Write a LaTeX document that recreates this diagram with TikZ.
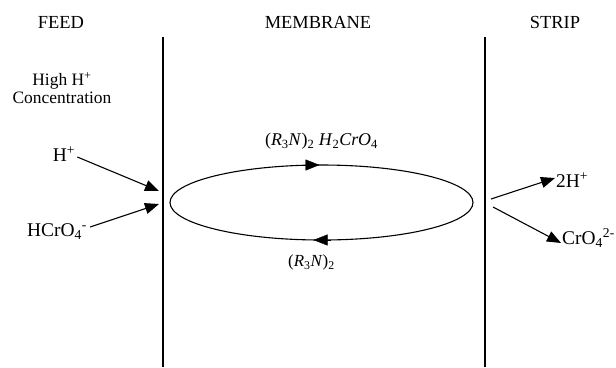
\documentclass[tikz,border=0pt]{standalone}
\usepackage{fontspec}
\setmainfont{Liberation Serif}
\usetikzlibrary{positioning, arrows.meta}
\newcommand{\chem}[1]{\textit{#1}}

\begin{document}
\begin{tikzpicture}[
    x=1bp, y=-1bp,
    head/.style={
        font=\fontsize{18.5}{21}\selectfont,
        inner sep=0pt
    },
    species/.style={
        font=\fontsize{19.5}{22}\selectfont,
        inner sep=1pt
    },
    carrier/.style={font=\fontsize{17}{19}\selectfont, inner sep=1pt},
    wall/.style={line width=1.1pt},
    flow/.style={-{Triangle[length=14bp, width=11bp]}, line width=1.1pt}
]
\useasboundingbox (0,0) rectangle (616,367);

% === Headings ===
\node[head] (feed) at (61,22) {FEED};
\node[head] (membrane) at (318,22) {MEMBRANE};
\node[head] (strip) at (555,22) {STRIP};

% === Membrane walls ===
\draw[wall] (163,37) coordinate (wl top) -- (163,367) coordinate (wl bot);
\draw[wall] (485,37) coordinate (wr top) -- (485,367) coordinate (wr bot);

% === Feed side ===
\node[species, align=center, font=\fontsize{17.5}{18.5}\selectfont] (high) at (62,88) {High H\textsuperscript{+}\\Concentration};
\node[species] (hplus) at (64,154) {H\textsuperscript{+}};
\node[species] (hcro) at (57,232) {HCrO\textsubscript{4}\textsuperscript{-}};
\coordinate (in1) at (159,191);
\coordinate (in2) at (159,204);
\draw[flow] (hplus.east) ++(1,3) -- (in1);
\draw[flow] (hcro.east) ++(2,-5) -- (in2);

% === Carrier cycle ===
\draw[line width=1.1pt] (321.5,202.5) ellipse [x radius=151.5, y radius=37.5];
\coordinate (cyc top) at (321.5,165);
\coordinate (cyc bot) at (321.5,240);
\draw[-{Triangle[length=14bp, width=11bp]}] ([xshift=-20]cyc top) -- ([xshift=-2]cyc top);
\draw[-{Triangle[length=14bp, width=11bp]}] ([xshift=10]cyc bot) -- ([xshift=-8]cyc bot);
\node[carrier, above=14bp of cyc top, font=\fontsize{18}{20}\selectfont] (complex) {(\chem{R}\textsubscript{3}\chem{N})\textsubscript{2} \chem{H}\textsubscript{2}\chem{CrO}\textsubscript{4}};
\node[carrier, below=14bp of cyc bot, xshift=-10bp] (amine) {(\chem{R}\textsubscript{3}\chem{N})\textsubscript{2}};

% === Strip side ===
\coordinate (out1) at (491,199);
\coordinate (out2) at (493,207);
\node[species, anchor=west] (twoh) at (555,180) {2H\textsuperscript{+}};
\node[species, anchor=west] (cro) at (561,238) {CrO\textsubscript{4}\textsuperscript{2-}};
\draw[flow] (out1) -- ([yshift=2]twoh.west);
\draw[flow] (out2) -- ([yshift=-5]cro.west);

\end{tikzpicture}
\end{document}
